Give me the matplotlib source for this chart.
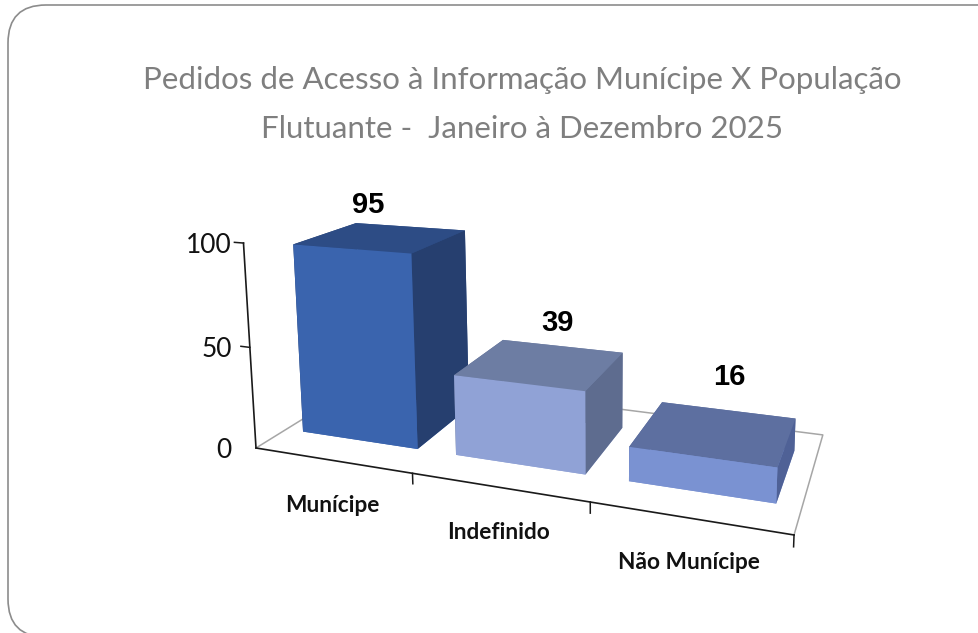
import matplotlib
matplotlib.use("Agg")
import matplotlib.pyplot as plt
from matplotlib.patches import FancyBboxPatch
import numpy as np

W, H = 979, 633

title_lines = ["Pedidos de Acesso à Informação Munícipe X População",
               "Flutuante -  Janeiro à Dezembro 2025"]
categories = ["Munícipe", "Indefinido", "Não Munícipe"]
values = [95, 39, 16]
y_ticks = [0, 50, 100]

# face colours: front, top, side
front_colors = ["#3A64AE", "#90A2D6", "#7A92D2"]
top_colors = ["#2D4C85", "#6D7DA3", "#5D6FA0"]
side_colors = ["#263F6F", "#5E6C8F", "#4F6196"]

# value label nudges in pixels
label_dx = [-14, 16, 13]
label_dy = [32, 41, 56]

# camera built from the three vanishing points of the old 3D chart
origin = np.array([256.0, 448.0, 1.0])
vp_x = np.array([-2200.0, 51.0, 1.0]) * -0.0599
vp_y = np.array([941.0, 24.5, 1.0]) * 0.2
vp_z = np.array([595.0, 6000.0, 1.0]) * -3.56e-4
camera = np.column_stack([vp_x, vp_y, vp_z, origin])


def project(x, y, z):
    p = camera @ np.array([x, y, z, 1.0])
    return p[0] / p[2], p[1] / p[2]


fig = plt.figure(figsize=(W / 100, H / 100), dpi=100)
bg = fig.add_axes([0, 0, 1, 1])
bg.set_xlim(0, W)
bg.set_ylim(H, 0)
bg.axis("off")

bg.add_patch(FancyBboxPatch((8, 5), 1100, 632, boxstyle="round,pad=0,rounding_size=38",
                            fc="white", ec="#8C8C8C", lw=1.2))

# floor outline sits under everything
floor = [project(0, 0, 0), project(0, 1, 0), project(3, 1, 0), project(3, 0, 0)]
bg.plot([p[0] for p in floor], [p[1] for p in floor], color="#A6A6A6", lw=1.1)

# square 3D axes big enough to cover the whole figure
ax = fig.add_axes([0, (H - W) / 2 / H, 1, W / H], projection="3d", computed_zorder=False)
ax.patch.set_alpha(0)
ax.set_axis_off()
ax.set_xlim(0, 3)
ax.set_ylim(0, 1)
ax.set_zlim(0, 100)


def get_proj():
    # pixel camera -> 2D coordinates of the 3D axes, plus a depth row for sorting
    pos = ax.get_position()
    xl, xr = ax.viewLim.intervalx
    yb, yt = ax.viewLim.intervaly
    sx = (xr - xl) / (W * pos.width)
    sy = (yt - yb) / (H * pos.height)
    to_view = np.array([
        [sx, 0, xl - sx * W * pos.x0],
        [0, -sy, yb + sy * H * (1 - pos.y0)],
        [0, 0, 1],
    ])
    m = to_view @ camera
    return np.array([m[0], m[1], [-0.1, 1.0, -0.003, 0.0], m[2]])


ax.get_proj = get_proj

# bars
for i, v in enumerate(values):
    faces = [front_colors[i], top_colors[i], front_colors[i], top_colors[i], side_colors[i], side_colors[i]]
    ax.bar3d(i + 0.115, 0.2335, 0, 0.76, 0.54, v, color=faces, shade=False, zorder=3 + i,
             edgecolor="none", linewidth=0)

# axes lines and ticks
ax.plot([0, 3], [0, 0], [0, 0], color="#1A1A1A", lw=1.2, zorder=8)
ax.plot([0, 0], [0, 0], [0, y_ticks[-1]], color="#1A1A1A", lw=1.2, zorder=8)
for t in y_ticks:
    ax.plot([-0.06, 0], [0, 0], [t, t], color="#1A1A1A", lw=1.1, zorder=8)
for i in range(len(categories) + 1):
    ax.plot([i, i], [0, 0], [-5, 0], color="#1A1A1A", lw=1.1, zorder=8)

# text
bg.text(522, 80, title_lines[0], family="Lato", fontsize=22.5, color="#7F7F7F", ha="center", va="center")
bg.text(522, 129, title_lines[1], family="Lato", fontsize=22.5, color="#7F7F7F", ha="center", va="center")

for t in y_ticks:
    px, py = project(0, 0, t)
    bg.text(232, py + 2, str(t), family="Lato", fontsize=19, color="#111111", ha="right", va="center")

for i, c in enumerate(categories):
    px, py = project(i + 0.5, 0, 0)
    bg.text(px, py + 45, c, family="Lato", fontweight="bold", fontsize=16.3, color="#111111",
            ha="center", va="center")

for i, v in enumerate(values):
    px, py = project(i + 0.5, 0.5, v)
    bg.text(px + label_dx[i], py - label_dy[i], str(v), family="Liberation Sans", fontweight="bold",
            fontsize=21, color="black", ha="center", va="center")

fig.savefig("out.png", dpi=100)
